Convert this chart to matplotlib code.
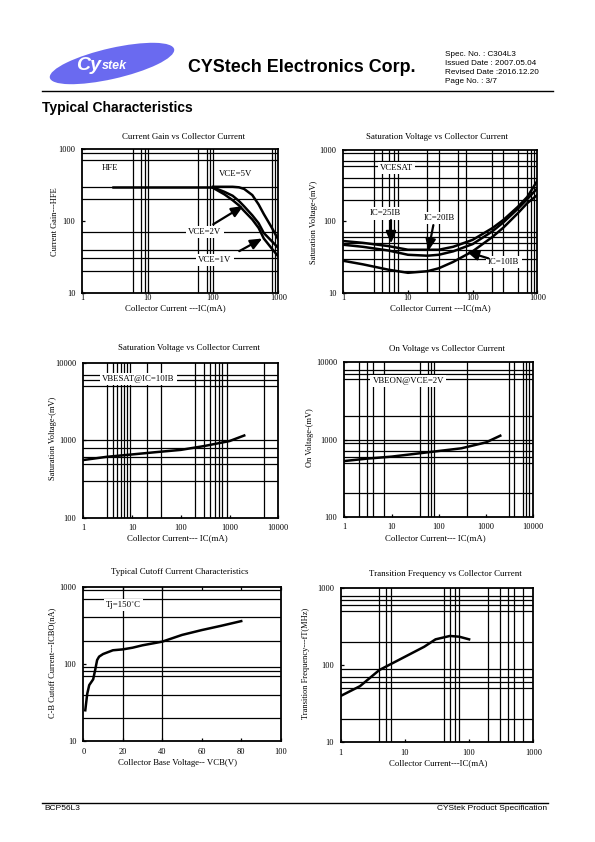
import matplotlib
matplotlib.use("Agg")
import matplotlib.pyplot as plt
from matplotlib.patches import Ellipse
from matplotlib.lines import Line2D
from matplotlib.ticker import FixedLocator, FixedFormatter, NullLocator

plt.rcParams['font.family'] = ['Liberation Serif', 'DejaVu Serif']

W, H = 595, 842

# ---- chart data ----
# Current gain vs collector current
hfe_ic = [3, 10, 30, 100]
hfe_flat = [300, 300, 300, 300]
gain_ic = [100, 150, 200, 250, 300, 400, 500, 600, 800, 1000]
gain_5v = [300, 300, 300, 295, 280, 230, 170, 125, 80, 55]
gain_2v = [295, 255, 225, 190, 160, 120, 93, 68, 52, 42]
gain_1v = [290, 235, 195, 165, 138, 105, 80, 57, 41, 32]

# VCE(sat) vs collector current
sat_ic = [1, 2, 5, 10, 20, 30, 50, 100, 200, 300, 500, 700, 1000]
sat_25ib = [53, 50, 45, 40, 40, 40, 44, 55, 80, 105, 160, 220, 370]
sat_20ib = [47, 44, 39, 34, 33, 34, 38, 48, 72, 97, 150, 205, 290]
sat_10ib = [28, 25, 21, 19, 20, 22, 27, 38, 60, 82, 130, 180, 234]

# VBE(sat) vs collector current
vbesat_ic = [1, 3, 10, 30, 100, 300, 1000, 2000]
vbesat_mv = [555, 610, 655, 700, 750, 840, 975, 1150]

# VBE(on) vs collector current
vbeon_ic = [1, 3, 10, 30, 100, 300, 1000, 2000]
vbeon_mv = [526, 565, 600, 650, 710, 769, 918, 1120]

# ICBO vs VCB
icbo_vcb = [1, 2, 3, 5, 6, 7, 8, 10, 15, 20, 25, 30, 40, 50, 60, 70, 80]
icbo_na = [25, 41, 53, 63, 83, 112, 124, 134, 150, 154, 162, 174, 194, 237, 274, 312, 358]

# fT vs collector current
ft_ic = [1, 2, 4, 10, 20, 30, 50, 70, 100]
ft_mhz = [39.5, 53, 86, 128, 173, 216, 239, 234, 216]

# grid line positions of each panel
g1x = [6, 8, 9, 10, 60, 80, 90, 100, 800, 900]
g1y = [20, 30, 40, 70, 200, 300, 700, 900]
g2x = [3, 4, 5, 6, 7, 20, 30, 60, 80, 200, 300, 500, 700, 800, 900]
g2y = [20, 30, 40, 50, 60, 70, 200, 300, 400, 600, 700, 900]
g3x = [3, 4, 5, 6, 7, 8, 9, 20, 40, 200, 300, 400, 500, 600, 700, 900, 5000]
g3y = [300, 500, 600, 800, 1000, 5000, 6000, 7000]
g4x = [2, 3, 4, 7, 40, 60, 70, 80, 400, 3000, 4000, 6000, 7000, 8000]
g4y = [200, 500, 600, 700, 900, 1000, 2000, 6000, 7000, 8000]
g5x = [20, 40]
g5y = [20, 40, 70, 80, 90, 200, 400, 700, 900]
g6x = [4, 5, 6, 40, 50, 60, 70, 200, 300, 400, 500, 700]
g6y = [20, 50, 60, 70, 90, 200, 500, 600, 700, 800]

fig = plt.figure(figsize=(W / 100, H / 100), dpi=100)


def fx(x):
    return x / W


def fy(y):
    return 1 - y / H


def panel(box, xlim, ylim, xticks, yticks, gx, gy, xlog=True, xpad=0.7):
    l, t, r, b = box
    ax = fig.add_axes([l / W, 1 - b / H, (r - l) / W, (b - t) / H])
    if xlog:
        ax.set_xscale('log')
    ax.set_yscale('log')
    ax.set_xlim(xlim)
    ax.set_ylim(ylim)
    for v in gx:
        ax.axvline(v, color='black', lw=0.9, zorder=1)
    for v in gy:
        ax.axhline(v, color='black', lw=0.9, zorder=1)
    ax.xaxis.set_major_locator(FixedLocator(xticks))
    ax.xaxis.set_major_formatter(FixedFormatter([str(v) for v in xticks]))
    ax.xaxis.set_minor_locator(NullLocator())
    ax.yaxis.set_major_locator(FixedLocator(yticks))
    ax.yaxis.set_major_formatter(FixedFormatter([str(v) for v in yticks]))
    ax.yaxis.set_minor_locator(NullLocator())
    ax.tick_params(axis='x', length=2.5, width=0.9, direction='in',
                   labelsize=6, pad=xpad)
    ax.tick_params(axis='y', length=2.5, width=0.9, direction='in',
                   labelsize=6, pad=5)
    for s in ax.spines.values():
        s.set_linewidth(1.3)
    return ax


def tag(ax, x, y, s):
    ax.text(x, y, s, ha='center', va='center', fontsize=6.3, zorder=5,
            bbox=dict(fc='white', ec='none', pad=1.5))


def arrow(ax, tail, head):
    ax.annotate('', xy=head, xytext=tail, zorder=6,
                arrowprops=dict(arrowstyle='-|>,head_length=0.7,head_width=0.3',
                                lw=1.6, color='black', shrinkA=0, shrinkB=0))


def titles(cx, ty, title, lx, ly, ylab, xx, xy, xlab):
    fig.text(fx(cx), fy(ty), title, ha='center', va='center', fontsize=6.4)
    fig.text(fx(lx), fy(ly), ylab, ha='center', va='center', fontsize=6, rotation=90)
    fig.text(fx(xx), fy(xy), xlab, ha='center', va='center', fontsize=6.3)


CW = 1.8

# ---- panel 1 ----
ax1 = panel((82.3, 149.3, 278.3, 292.7), (1, 1000), (10, 1000),
            [1, 10, 100, 1000], [10, 100, 1000], g1x, g1y)
ax1.plot(hfe_ic, hfe_flat, color='black', lw=CW, zorder=3)
ax1.plot(gain_ic, gain_5v, color='black', lw=CW, zorder=3)
ax1.plot(gain_ic, gain_2v, color='black', lw=CW, zorder=3)
ax1.plot(gain_ic, gain_1v, color='black', lw=CW, zorder=3)
tag(ax1, 2.65, 540, 'HFE')
tag(ax1, 225, 448, 'VCE=5V')
tag(ax1, 75, 70, 'VCE=2V')
tag(ax1, 107, 28.6, 'VCE=1V')
arrow(ax1, (101, 90), (291, 162))
arrow(ax1, (253, 38), (569, 57))
titles(183, 137, 'Current Gain vs Collector Current', 55, 222, 'Current Gain---HFE',
       175, 308, 'Collector Current ---IC(mA)')

# ---- panel 2 ----
ax2 = panel((343.3, 150, 537.3, 292.7), (1, 1000), (10, 1000),
            [1, 10, 100, 1000], [10, 100, 1000], g2x, g2y)
ax2.plot(sat_ic, sat_25ib, color='black', lw=CW, zorder=3)
ax2.plot(sat_ic, sat_20ib, color='black', lw=CW, zorder=3)
ax2.plot(sat_ic, sat_10ib, color='black', lw=CW, zorder=3)
tag(ax2, 6.7, 565, 'VCESAT')
tag(ax2, 4.4, 129, 'IC=25IB')
tag(ax2, 30.4, 112, 'IC=20IB')
tag(ax2, 304, 26.6, 'IC=10IB')
arrow(ax2, (5.46, 104), (5.46, 49))
arrow(ax2, (24.7, 88.6), (20.6, 38.4))
arrow(ax2, (175, 30.3), (80.8, 37.6))
titles(437, 137, 'Saturation Voltage vs Collector Current', 314, 222,
       'Saturation Voltage-(mV)', 440, 308, 'Collector Current ---IC(mA)')

# ---- panel 3 ----
ax3 = panel((83.3, 362.7, 278.3, 517.7), (1, 10000), (100, 10000),
            [1, 10, 100, 1000, 10000], [100, 1000, 10000], g3x, g3y, xpad=4.3)
ax3.plot(vbesat_ic, vbesat_mv, color='black', lw=CW, zorder=3)
tag(ax3, 13.4, 6100, 'VBESAT@IC=10IB')
titles(189, 348, 'Saturation Voltage vs Collector Current', 53, 438,
       'Saturation Voltage-(mV)', 177, 538, 'Collector Current--- IC(mA)')

# ---- panel 4 ----
ax4 = panel((344.3, 362.3, 533.3, 516.7), (1, 10000), (100, 10000),
            [1, 10, 100, 1000, 10000], [100, 1000, 10000], g4x, g4y, xpad=4.3)
ax4.plot(vbeon_ic, vbeon_mv, color='black', lw=CW, zorder=3)
tag(ax4, 22.6, 5730, 'VBEON@VCE=2V')
titles(447, 349, 'On Voltage vs Collector Current', 310, 438, 'On Voltage-(mV)',
       435, 538, 'Collector Current--- IC(mA)')

# ---- panel 5 ----
ax5 = panel((83.3, 586.7, 280.7, 741), (0, 100), (10, 1000),
            [0, 20, 40, 60, 80, 100], [10, 100, 1000], g5x, g5y, xlog=False, xpad=5.3)
ax5.tick_params(axis='x', top=True)
ax5.plot(icbo_vcb, icbo_na, color='black', lw=CW, zorder=3)
tag(ax5, 20.3, 578, 'Tj=150\u02daC')
titles(180, 572, 'Typical Cutoff Current Characteristics', 52, 663,
       'C-B Cutoff Current---ICBO(nA)', 177, 763, 'Collector Base Voltage-- VCB(V)')

# ---- panel 6 ----
ax6 = panel((340.7, 588.3, 533.3, 741.7), (1, 1000), (10, 1000),
            [1, 10, 100, 1000], [10, 100, 1000], g6x, g6y, xpad=5.3)
ax6.plot(ft_ic, ft_mhz, color='black', lw=CW, zorder=3)
titles(445, 574, 'Transition Frequency vs Collector Current', 306, 663,
       'Transition Frequency---fT(MHz)', 438, 763, 'Collector Current---IC(mA)')

# ---- page header ----
sans = 'Liberation Sans'
logo = Ellipse((fx(112), fy(63.5)), 126 / W, 31 / H, angle=9,
               transform=fig.transFigure, fc='#6a6af0', ec='none')
fig.patches.append(logo)
fig.text(fx(101), fy(65), 'Cy', color='white', fontsize=14, fontweight='bold',
         family=sans, ha='right', va='center', style='italic')
fig.text(fx(102), fy(66), 'stek', color='white', fontsize=9, fontweight='bold',
         family=sans, ha='left', va='center', style='italic')
fig.text(fx(188), fy(68), 'CYStech Electronics Corp.', fontsize=12.9,
         fontweight='bold', family=sans, ha='left', va='center')
spec = ['Spec. No. : C304L3', 'Issued Date : 2007.05.04',
        'Revised Date :2016.12.20', 'Page No. : 3/7']
for i, s in enumerate(spec):
    fig.text(fx(445), fy(55 + 8.9 * i), s, fontsize=5.9, family=sans,
             ha='left', va='center')
fig.lines.append(Line2D([fx(42), fx(553)], [fy(91), fy(91)], color='black',
                        lw=1.0, transform=fig.transFigure))
fig.text(fx(42), fy(108), 'Typical Characteristics', fontsize=10,
         fontweight='bold', family=sans, ha='left', va='center')

# ---- footer ----
fig.lines.append(Line2D([fx(42), fx(548)], [fy(803), fy(803)], color='black',
                        lw=1.0, transform=fig.transFigure))
fig.text(fx(44), fy(808), 'BCP56L3', fontsize=6, family=sans, ha='left', va='center')
fig.text(fx(547), fy(808), 'CYStek Product Specification', fontsize=6,
         family=sans, ha='right', va='center')

fig.savefig('out.png', dpi=100)
